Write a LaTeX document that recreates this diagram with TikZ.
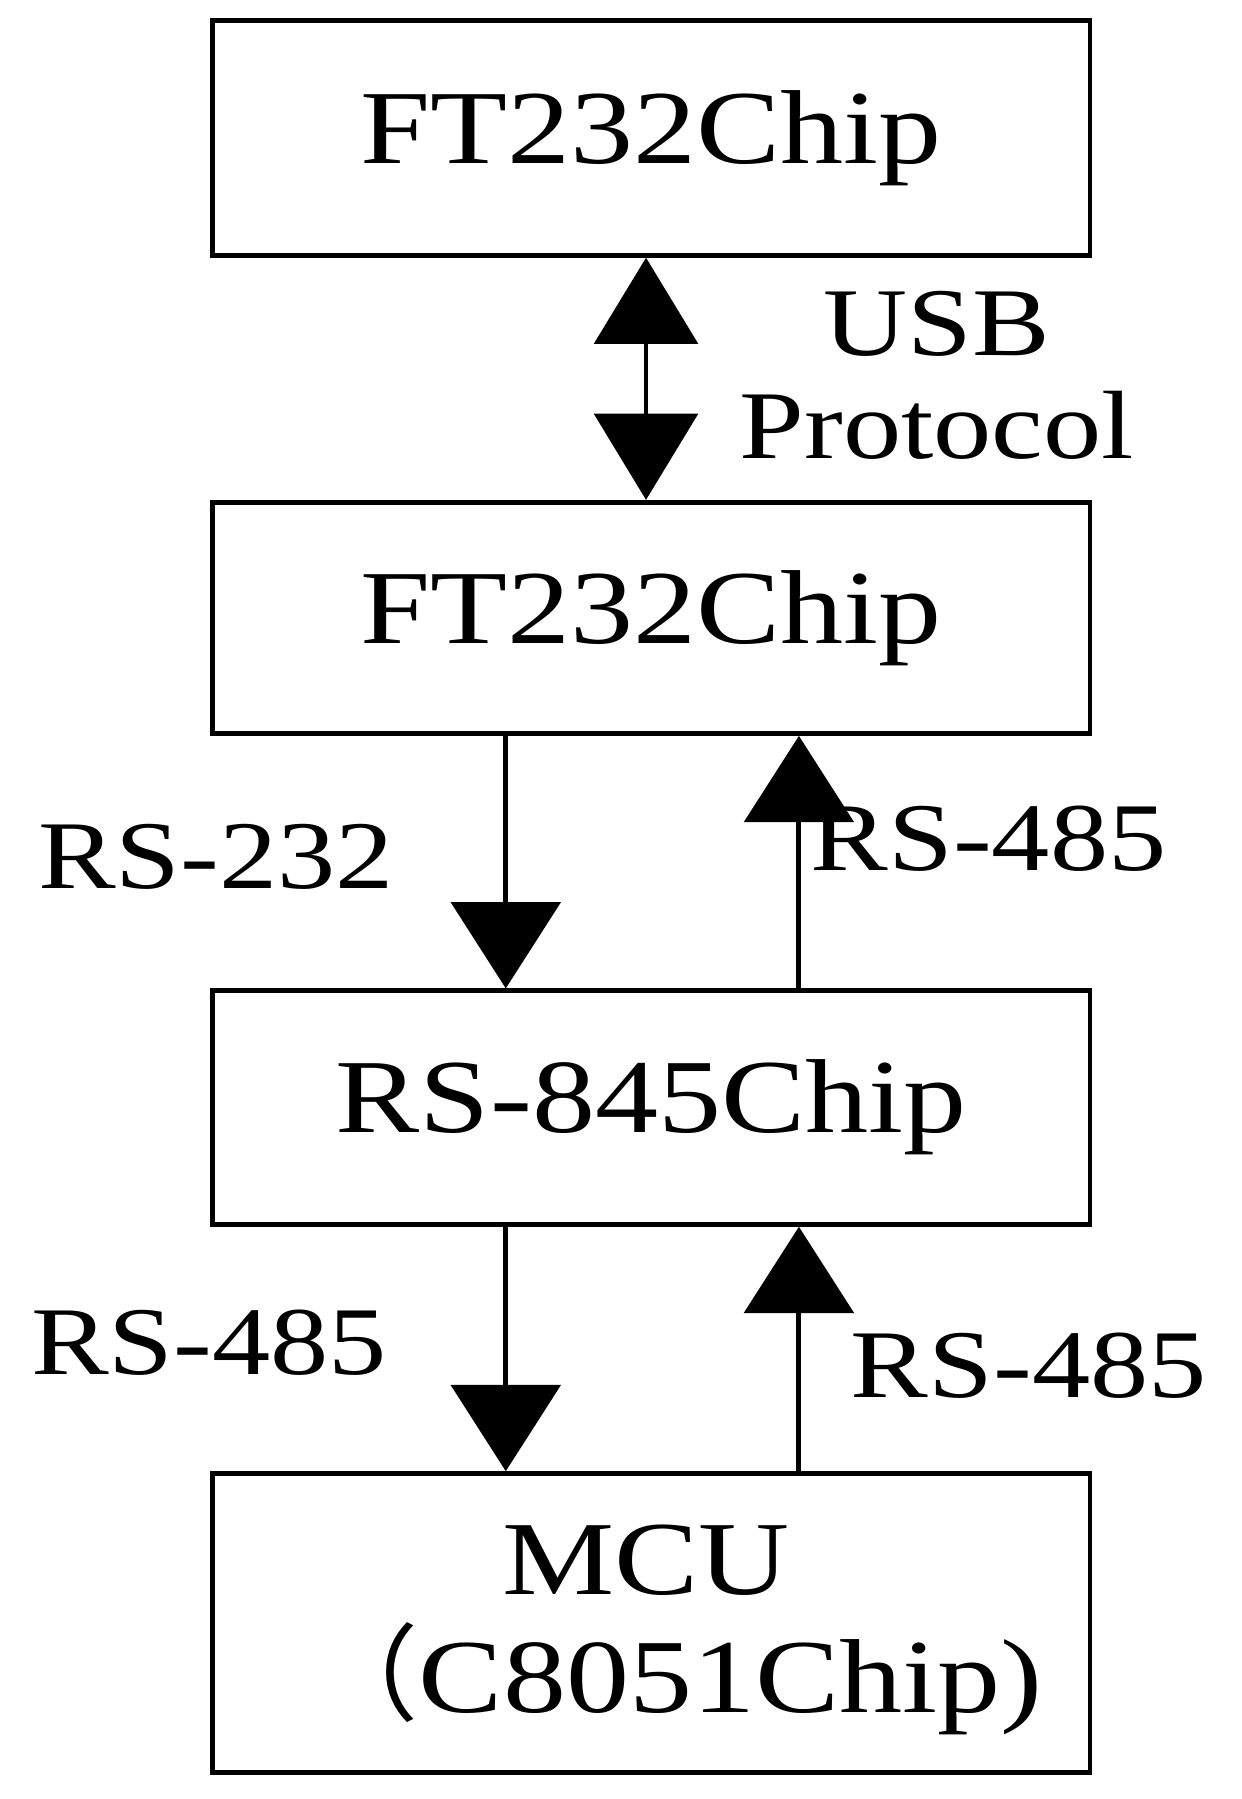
\documentclass[tikz,border=0pt]{standalone}
\usepackage{fontspec}
\setmainfont{Liberation Serif}[FakeStretch=1.2]
\newfontfamily\cjk{Noto Sans CJK SC}
\usetikzlibrary{arrows.meta}
\begin{document}
\begin{tikzpicture}[x=0.01cm,y=-0.01cm,
  box/.style={draw,line width=1.2pt,minimum width=7.63cm,inner sep=0},
  big/.style={font=\fontsize{26}{30}\selectfont},
  lab/.style={font=\fontsize{24}{28}\selectfont},
  conn/.style={line width=1.2pt,-{Triangle[width=0.95cm,length=0.75cm]}},
  dconn/.style={line width=1.2pt,{Triangle[width=0.9cm,length=0.75cm]}-{Triangle[width=0.9cm,length=0.75cm]}}]
\useasboundingbox (0,0) rectangle (1080,1565);
\node[box,minimum height=2.04cm,big] (b1) at (566.5,120) {FT232Chip};
\node[box,minimum height=2.01cm,big] (b2) at (566.5,537.5) {FT232Chip};
\node[box,minimum height=2.03cm,big] (b3) at (566.5,963.5) {RS-845Chip};
\node[box,minimum height=2.6cm] (b4) at (566.5,1412) {};
\node[big] (m1) at (562,1357) {MCU};
\node[big] (m2) at (590,1460) {{\cjk （}C8051Chip)};
\draw[dconn] (b1.south -| 562,0) -- (b2.north -| 562,0);
\draw[conn] (b2.south -| 440,0) -- (b3.north -| 440,0);
\draw[conn] (b3.north -| 695,0) -- (b2.south -| 695,0);
\draw[conn] (b3.south -| 440,0) -- (b4.north -| 440,0);
\draw[conn] (b4.north -| 695,0) -- (b3.south -| 695,0);
\node[lab] (usb) at (815,282) {USB};
\node[lab] (prot) at (815,370) {Protocol};
\node[lab] (l1) at (188,745) {RS-232};
\node[lab] (l2) at (860,730) {RS-485};
\node[lab] (l3) at (182,1168) {RS-485};
\node[lab] (l4) at (895,1188) {RS-485};
\end{tikzpicture}
\end{document}
